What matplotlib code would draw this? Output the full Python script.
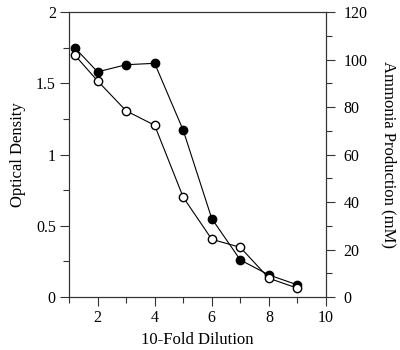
import matplotlib.pyplot as plt
from matplotlib.ticker import MultipleLocator

plt.rcParams['font.family'] = ['Liberation Serif', 'DejaVu Serif']

dilution = [1.2, 2, 3, 4, 5, 6, 7, 8, 9]
optical_density = [1.75, 1.58, 1.63, 1.64, 1.17, 0.55, 0.26, 0.155, 0.085]
ammonia = [101.9, 91.0, 78.4, 72.3, 42.0, 24.3, 20.9, 7.9, 3.7]

fig = plt.figure(figsize=(4, 3.5), dpi=100)
ax = fig.add_axes([0.1725, 0.1514, 0.6425, 0.8143])
ax2 = ax.twinx()

ax.plot(dilution, optical_density, color='black', lw=0.8, marker='o',
        markersize=6, markerfacecolor='black', markeredgecolor='black', zorder=3)
ax2.plot(dilution, ammonia, color='black', lw=0.8, marker='o',
         markersize=6, markerfacecolor='white', markeredgecolor='black', zorder=3)

ax.set_xlim(1, 10)
ax.set_ylim(0, 2)
ax2.set_ylim(0, 120)

ax.xaxis.set_major_locator(MultipleLocator(2))
ax.xaxis.set_minor_locator(MultipleLocator(1))
ax.yaxis.set_major_locator(MultipleLocator(0.5))
ax.yaxis.set_minor_locator(MultipleLocator(0.25))
ax2.yaxis.set_major_locator(MultipleLocator(20))
ax2.yaxis.set_minor_locator(MultipleLocator(10))
ax.set_yticks([0, 0.5, 1, 1.5, 2], ['0', '0.5', '1', '1.5', '2'])

for a in (ax, ax2):
    a.tick_params(which='both', direction='out', labelsize=11.5, width=0.8,
                  color='#333333')
    a.tick_params(which='major', length=6.5, pad=3)
    a.tick_params(which='minor', length=4)
    for s in a.spines.values():
        s.set_color('#333333')
ax.tick_params(top=False, which='both')
ax2.tick_params(which='major', pad=6)

ax.set_xlabel('10-Fold Dilution', fontsize=12, labelpad=4)
ax.set_ylabel('Optical Density', fontsize=12, labelpad=7)
ax2.set_ylabel('Ammonia Production (mM)', fontsize=12, rotation=270, labelpad=21)

fig.savefig('out.png', dpi=100)
